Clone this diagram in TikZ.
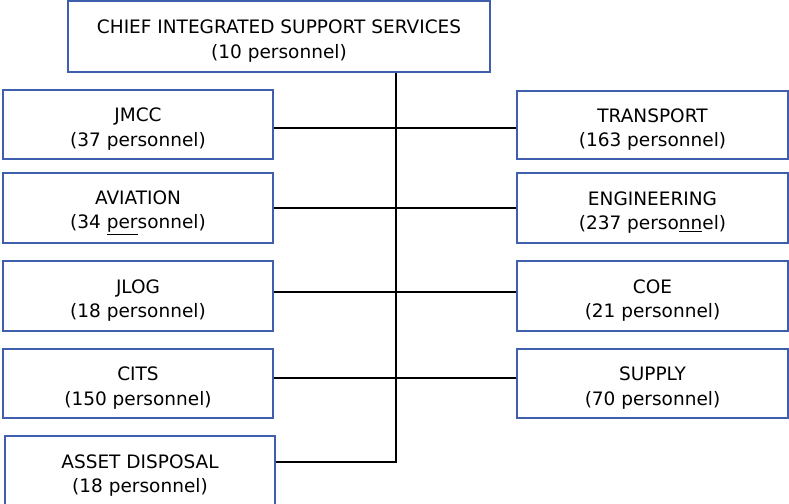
\documentclass[tikz,border=0pt]{standalone}
\usepackage{fontspec}
\setmainfont{DejaVu Sans}
\newcommand\orgtext[2]{\rule{0pt}{23pt}#1\\#2}
\begin{document}
\begin{tikzpicture}[x=1pt,y=-1pt,
  unit/.style={draw=boxblue,line width=1.4pt,fill=white,align=center,inner sep=0pt,
    font=\fontsize{18.5}{24.5}\selectfont},
  link/.style={draw=black,line width=1.4pt}]
\definecolor{boxblue}{HTML}{3F5EAD}
\useasboundingbox (0,0) rectangle (789,503);
\fill[white] (0,0) rectangle (789,503);
\node[unit,minimum width=422pt,minimum height=71pt] (chief) at (279,36.5) {\orgtext{CHIEF INTEGRATED SUPPORT SERVICES}{(10 personnel)}};
\node[unit,minimum width=270pt,minimum height=69pt] (jmcc) at (138,124.5) {\orgtext{JMCC}{(37 personnel)}};
\node[unit,minimum width=270pt,minimum height=70pt] (aviation) at (138,208) {\orgtext{AVIATION}{(34 \underline{per}sonnel)}};
\node[unit,minimum width=270pt,minimum height=70pt] (jlog) at (138,296) {\orgtext{JLOG}{(18 personnel)}};
\node[unit,minimum width=270pt,minimum height=69pt] (cits) at (138,383.5) {\orgtext{CITS}{(150 personnel)}};
\node[unit,minimum width=270pt,minimum height=70pt] (asset) at (140,471) {\orgtext{ASSET DISPOSAL}{(18 personnel)}};
\node[unit,minimum width=271pt,minimum height=68pt] (transport) at (652.5,125) {\orgtext{TRANSPORT}{(163 personnel)}};
\node[unit,minimum width=271pt,minimum height=70pt] (engineering) at (652.5,208) {\orgtext{ENGINEERING}{(237 perso\underline{nn}el)}};
\node[unit,minimum width=271pt,minimum height=70pt] (coe) at (652.5,296) {\orgtext{COE}{(21 personnel)}};
\node[unit,minimum width=271pt,minimum height=69pt] (supply) at (652.5,383.5) {\orgtext{SUPPLY}{(70 personnel)}};
\coordinate (r1) at (396,128);
\coordinate (r2) at (396,208);
\coordinate (r3) at (396,292);
\coordinate (r4) at (396,378);
\coordinate (r5) at (396,462);
\draw[link] (chief.south -| r5) -- (r5) -- (asset.east |- r5);
\draw[link] (jmcc.east |- r1) -- (transport.west |- r1);
\draw[link] (aviation.east |- r2) -- (engineering.west |- r2);
\draw[link] (jlog.east |- r3) -- (coe.west |- r3);
\draw[link] (cits.east |- r4) -- (supply.west |- r4);
\end{tikzpicture}
\end{document}
